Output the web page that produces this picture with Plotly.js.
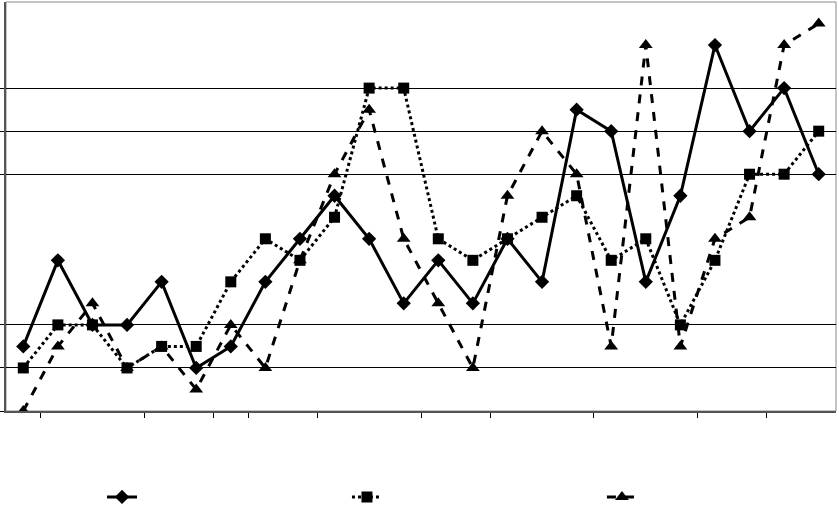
<!DOCTYPE html>
<html>
<head>
<meta charset="utf-8">
<script src="https://cdn.plot.ly/plotly-3.0.1.min.js"></script>
<style>html,body{margin:0;padding:0;background:#fff;}#chart{width:839px;height:507px;}</style>
</head>
<body>
<div id="chart"></div>
<script>
const categories = Array.from({length: 24}, (_, i) => i);
const seriesSolid = [3, 7, 4, 4, 6, 2, 3, 6, 8, 10, 8, 5, 7, 5, 8, 6, 14, 13, 6, 10, 17, 13, 15, 11];
const seriesDotted = [2, 4, 4, 2, 3, 3, 6, 8, 7, 9, 15, 15, 8, 7, 8, 9, 10, 7, 8, 4, 7, 11, 11, 13];
const seriesDashed = [0, 3, 5, 2, 3, 1, 4, 2, 7, 11, 14, 8, 5, 2, 10, 13, 11, 3, 17, 3, 8, 9, 17, 18];
const seriesNames = [" ", " ", " "];
const xTickVals = [0.5, 3.5, 5.5, 6.5, 8.5, 11.5, 13.5, 16.5, 19.5, 21.5];
const yTickVals = [0, 2, 4, 11, 13, 15];

const traces = [
  {x: categories, y: seriesSolid, name: seriesNames[0], mode: 'lines+markers', type: 'scatter', legend: 'legend',
   line: {color: '#000', width: 3, dash: 'solid'}, marker: {symbol: 'diamond', size: 11, color: '#000'}},
  {x: categories, y: seriesDotted, name: seriesNames[1], mode: 'lines+markers', type: 'scatter', legend: 'legend2',
   line: {color: '#000', width: 3, dash: 'dot'}, marker: {symbol: 'square', size: 11, color: '#000'}},
  {x: categories, y: seriesDashed, name: seriesNames[2], mode: 'lines+markers', type: 'scatter', legend: 'legend3',
   line: {color: '#000', width: 3, dash: 'dash'}, marker: {symbol: 'triangle-up', size: 12, color: '#000'}}
];

const legendBase = {orientation: 'h', xanchor: 'left', y: -0.21, yanchor: 'middle', bgcolor: 'rgba(0,0,0,0)',
                    font: {size: 12, family: 'Arial, Liberation Sans, sans-serif'}};

const layout = {
  width: 839, height: 507,
  margin: {l: 6, r: 3, t: 2, b: 96, autoexpand: false},
  paper_bgcolor: '#fff', plot_bgcolor: '#fff',
  showlegend: true,
  legend: Object.assign({}, legendBase, {x: 0.1157}),
  legend2: Object.assign({}, legendBase, {x: 0.4108}),
  legend3: Object.assign({}, legendBase, {x: 0.718}),
  xaxis: {range: [-0.5, 23.5], tickvals: xTickVals, showticklabels: false, ticks: 'outside', ticklen: 5,
          tickcolor: '#000', showgrid: false, zeroline: false, showline: true, linecolor: '#555', linewidth: 2,
          fixedrange: true},
  yaxis: {range: [0, 19], tickvals: yTickVals, showticklabels: false, ticks: 'outside', ticklen: 5,
          tickcolor: '#000', showgrid: true, gridcolor: '#000', gridwidth: 1, zeroline: false,
          showline: true, linecolor: '#555', linewidth: 2, fixedrange: true},
  shapes: [{type: 'rect', xref: 'paper', yref: 'paper', x0: 0, x1: 1, y0: 0, y1: 1,
            line: {color: '#888', width: 1}, layer: 'below'}]
};

Plotly.newPlot('chart', traces, layout, {displayModeBar: false, staticPlot: true});
</script>
</body>
</html>
